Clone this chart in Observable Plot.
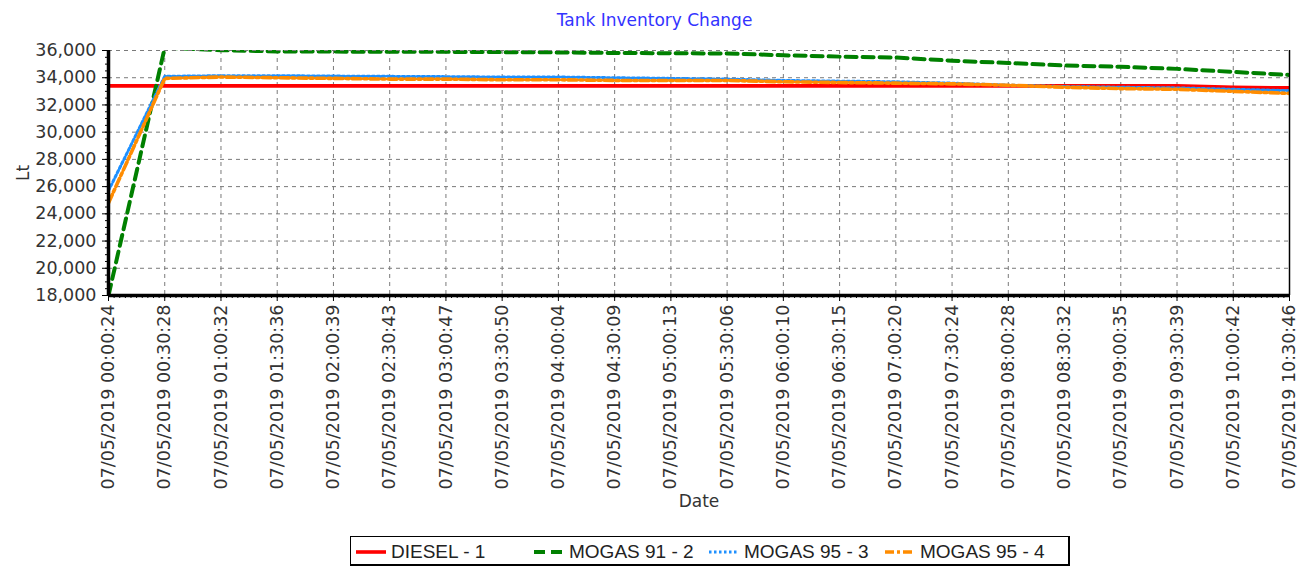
<!DOCTYPE html>
<html>
<head>
<meta charset="utf-8">
<script src="https://cdn.jsdelivr.net/npm/d3@7"></script>
<script src="https://cdn.jsdelivr.net/npm/@observablehq/plot@0.6"></script>
<style>
  html, body { margin: 0; padding: 0; background: #fff; }
  #wrap { position: relative; width: 1309px; height: 570px; font-family: "DejaVu Sans", sans-serif; }
  #title { height: 38px; line-height: 40px; text-align: center; color: #3333ff; font-size: 17px; }
  #legend { position: absolute; left: 350px; top: 536px; width: 720px; height: 30px;
            border: 1px solid #000; border-right-width: 2px; border-bottom-width: 2px; box-sizing: border-box;
            font-family: "Liberation Sans", Arial, sans-serif; font-size: 19px; color: #222; }
  .item { position: absolute; top: 4px; display: flex; align-items: center; height: 22px; }
  .item svg { margin-right: 4px; }
</style>
</head>
<body>
<div id="wrap">
  <div id="title">Tank Inventory Change</div>
  <div id="chart"></div>
  <div id="legend"></div>
</div>
<script>
const timeLabels = [
  "07/05/2019 00:00:24","07/05/2019 00:30:28","07/05/2019 01:00:32","07/05/2019 01:30:36",
  "07/05/2019 02:00:39","07/05/2019 02:30:43","07/05/2019 03:00:47","07/05/2019 03:30:50",
  "07/05/2019 04:00:04","07/05/2019 04:30:09","07/05/2019 05:00:13","07/05/2019 05:30:06",
  "07/05/2019 06:00:10","07/05/2019 06:30:15","07/05/2019 07:00:20","07/05/2019 07:30:24",
  "07/05/2019 08:00:28","07/05/2019 08:30:32","07/05/2019 09:00:35","07/05/2019 09:30:39",
  "07/05/2019 10:00:42","07/05/2019 10:30:46"
];
const seriesNames = ["DIESEL - 1", "MOGAS 91 - 2", "MOGAS 95 - 3", "MOGAS 95 - 4"];
const diesel = [33400,33400,33400,33400,33400,33400,33400,33400,33400,33400,33400,33400,33400,33400,33400,33400,33400,33400,33400,33400,33300,33250];
const mogas91 = [18000,36200,36020,35930,35920,35900,35900,35880,35860,35820,35800,35780,35650,35550,35480,35250,35080,34900,34800,34650,34430,34200];
const mogas95a = [25700,34100,34150,34150,34120,34100,34080,34050,34050,34000,33950,33900,33800,33750,33700,33600,33450,33350,33300,33250,33150,33050];
const mogas95b = [24800,33950,34050,34000,33950,33900,33900,33850,33850,33800,33800,33800,33700,33650,33600,33550,33450,33300,33200,33150,33000,32850];
const yTicks = d3.range(18000, 36001, 2000);

const styles = [
  {color: "#ff0000", width: 3.6, dash: null},
  {color: "#008000", width: 4, dash: "11,6"},
  {color: "#1e90ff", width: 3, dash: "2.5,2.5"},
  {color: "#ff8c00", width: 3.6, dash: "9,3,3,3"}
];
const allValues = [diesel, mogas91, mogas95a, mogas95b];
const data = allValues.map((vals, k) => vals.map((v, i) => ({i, v, s: seriesNames[k]})));

const idx = d3.range(timeLabels.length);
const gridStyle = {stroke: "#7a7a7a", strokeOpacity: 1, strokeDasharray: "4,4", strokeWidth: 1};
const fmt = d3.format(",");

const chart = Plot.plot({
  width: 1309,
  height: 495,
  marginLeft: 108,
  marginRight: 20,
  marginTop: 12,
  marginBottom: 238,
  style: {fontFamily: "DejaVu Sans, sans-serif", color: "#333", background: "#fff"},
  x: {type: "linear", domain: [0, timeLabels.length - 1]},
  y: {domain: [18000, 36000]},
  marks: [
    Plot.gridX(idx, gridStyle),
    Plot.gridY(yTicks, gridStyle),
    ...data.map((d, k) => Plot.lineY(d, {
      x: "i", y: "v", stroke: styles[k].color, strokeWidth: styles[k].width,
      strokeDasharray: styles[k].dash, clip: true, strokeLinejoin: "round"
    })),
    Plot.axisX(d3.range(0, timeLabels.length - 1 + 1e-9, 0.1), {tickSize: 3, text: null, label: null, stroke: "#000"}),
    Plot.axisX(idx, {
      tickFormat: i => timeLabels[i], tickRotate: -90, tickSize: 6, tickPadding: 3,
      fontSize: 17.5, stroke: "#000", fill: "#333",
      label: "Date", labelAnchor: "center", labelArrow: "none", labelOffset: 211
    }),
    Plot.axisY(d3.range(18000, 36001, 500), {tickSize: 3, text: null, label: null, stroke: "#000"}),
    Plot.axisY(yTicks, {
      tickFormat: fmt, tickSize: 6, tickPadding: 6, fontSize: 17.5, stroke: "#000", fill: "#333",
      label: "Lt", labelAnchor: "center", labelArrow: "none", labelOffset: 92
    }),
    Plot.ruleY([36000], {stroke: "#7a7a7a", strokeDasharray: "4,4"}),
    Plot.ruleX([timeLabels.length - 1], {stroke: "#000", strokeWidth: 1.5}),
    Plot.ruleX([0], {stroke: "#000", strokeWidth: 3.5}),
    Plot.ruleY([18000], {stroke: "#000", strokeWidth: 3.5})
  ]
});
document.getElementById("chart").appendChild(chart);

d3.select(chart).selectAll("[aria-label='x-axis label'] text, [aria-label='y-axis label'] text")
  .style("font-size", "17px").style("fill", "#333");

// legend
const legendPos = [{sw: 355}, {sw: 533}, {sw: 708}, {sw: 884}];
const legend = d3.select("#legend");
seriesNames.forEach((name, k) => {
  const it = legend.append("div").attr("class", "item").style("left", (legendPos[k].sw - 351) + "px");
  const sv = it.append("svg").attr("width", 32).attr("height", 10);
  sv.append("line").attr("x1", 1).attr("x2", 31).attr("y1", 5).attr("y2", 5)
    .attr("stroke", styles[k].color).attr("stroke-width", styles[k].width)
    .attr("stroke-dasharray", styles[k].dash);
  it.append("span").text(name);
});
</script>
</body>
</html>
